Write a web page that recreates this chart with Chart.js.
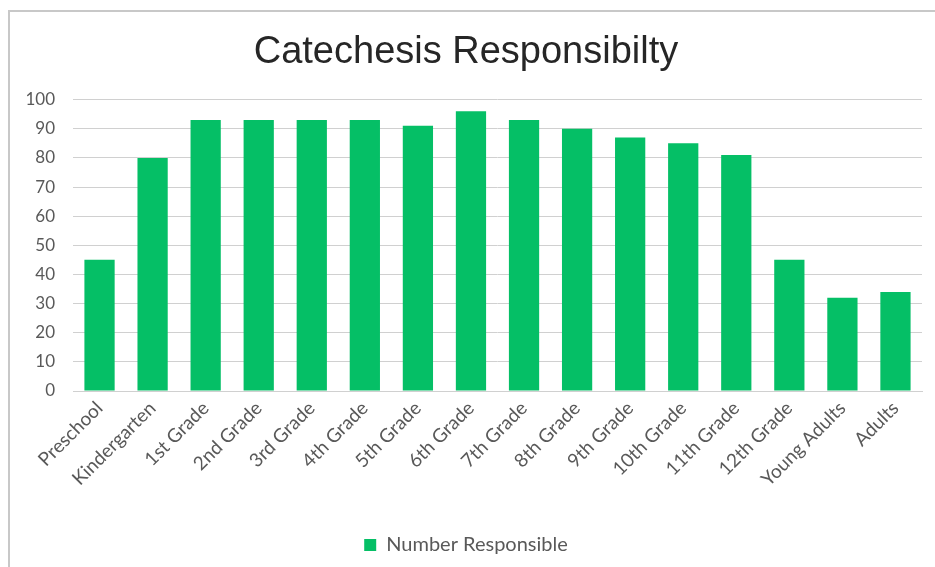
<!DOCTYPE html>
<html>
<head>
<meta charset="utf-8">
<script src="https://cdn.jsdelivr.net/npm/chart.js@4/dist/chart.umd.min.js"></script>
<style>
  html, body { margin: 0; padding: 0; background: #fff; }
  #wrap { position: relative; width: 935px; height: 567px; }
  #frame {
    position: absolute; left: 8px; top: 10px; right: -2px; bottom: -2px;
    border-left: 2px solid #c8c8c8; border-top: 2px solid #c8c8c8;
    pointer-events: none;
  }
</style>
</head>
<body>
<div id="wrap">
  <canvas id="barChart" width="935" height="567"></canvas>
  <div id="frame"></div>
</div>
<script>
const categories = ['Preschool', 'Kindergarten', '1st Grade', '2nd Grade', '3rd Grade', '4th Grade',
  '5th Grade', '6th Grade', '7th Grade', '8th Grade', '9th Grade', '10th Grade', '11th Grade',
  '12th Grade', 'Young Adults', 'Adults'];
const numberResponsible = [45, 80, 93, 93, 93, 93, 91, 96, 93, 90, 87, 85, 81, 45, 32, 34];
const yTicks = [0, 10, 20, 30, 40, 50, 60, 70, 80, 90, 100];

const green = '#05bf66';

const barChart = new Chart(document.getElementById('barChart'), {
  type: 'bar',
  data: {
    labels: categories,
    datasets: [{
      label: 'Number Responsible',
      data: numberResponsible,
      backgroundColor: green,
      borderWidth: 0,
      categoryPercentage: 1,
      barPercentage: 0.57
    }]
  },
  options: {
    responsive: false,
    animation: false,
    layout: { padding: { left: 10, right: 13, top: 10, bottom: 2 } },
    scales: {
      x: {
        grid: { display: false, drawTicks: false },
        border: { color: '#d0d0d0', width: 1 },
        ticks: {
          color: '#595959',
          font: { family: 'Lato', size: 19 },
          minRotation: 45,
          maxRotation: 45,
          padding: 6
        },
        afterFit: (scale) => { scale.height = 134; }
      },
      y: {
        min: 0,
        max: 100,
        afterBuildTicks: (scale) => { scale.ticks = yTicks.map(v => ({ value: v })); },
        grid: { color: '#d0d0d0', drawTicks: false },
        border: { display: false },
        ticks: { color: '#595959', font: { family: 'Lato', size: 17 }, padding: 18 },
        afterFit: (scale) => { scale.width = 63; }
      }
    },
    plugins: {
      title: {
        display: true,
        text: 'Catechesis Responsibilty',
        color: '#262626',
        font: { family: 'Liberation Sans', size: 38, weight: 'normal' },
        padding: { top: 20, bottom: 24 }
      },
      legend: {
        position: 'bottom',
        labels: {
          color: '#595959',
          font: { family: 'Lato', size: 20 },
          boxWidth: 12,
          boxHeight: 12,
          padding: 10
        }
      },
      tooltip: { enabled: false }
    }
  }
});
</script>
</body>
</html>
